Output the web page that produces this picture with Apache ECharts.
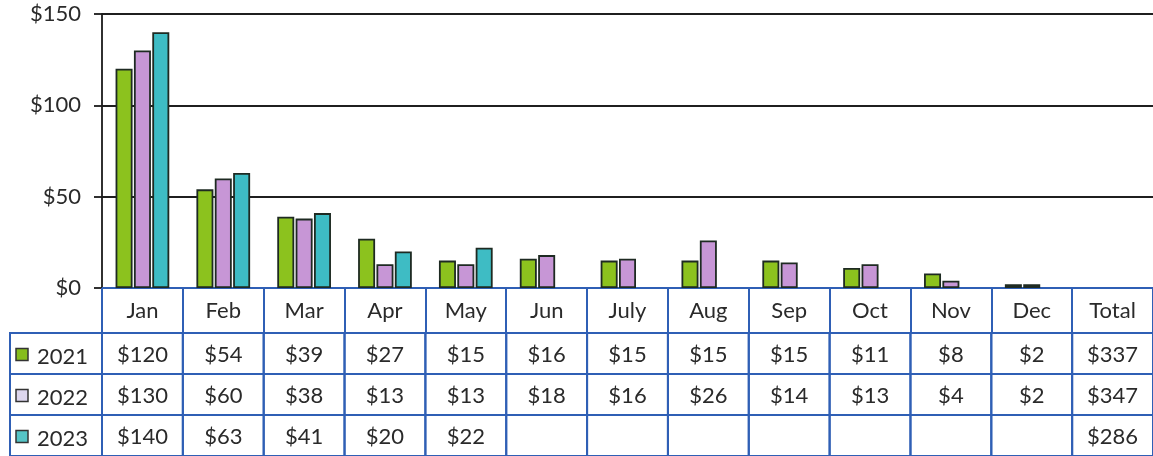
<!DOCTYPE html>
<html>
<head>
<meta charset="utf-8">
<script src="https://cdn.jsdelivr.net/npm/echarts@6/dist/echarts.min.js"></script>
<style>
html,body{margin:0;padding:0;background:#fff;}
#c{width:1153px;height:456px;}
</style>
</head>
<body>
<div id="c"></div>
<script>
// ---- data ----
const categories = ['Jan','Feb','Mar','Apr','May','Jun','July','Aug','Sep','Oct','Nov','Dec','Total'];
const seriesNames = ['2021','2022','2023'];
const v2021 = [120,54,39,27,15,16,15,15,15,11,8,2];
const v2022 = [130,60,38,13,13,18,16,26,14,13,4,2];
const v2023 = [140,63,41,20,22,null,null,null,null,null,null,null];
const totals = [337,347,286];
const yTicks = [0,50,100,150];

// ---- styles ----
const FONT = 'Lato';
const FS = 22;
const TXT = '#2a2a2a';
const BLUE = '#2f5fb5';
const fills = ['#8cc21e','#c796d6','#3ebcc4'];
const markerFills = ['#86bd1c','#ddd6ee','#55c4c6'];
const edge = '#1e2a22';

const rows = [v2021, v2022, v2023];
const tableData = [];
rows.forEach((vals, r) => {
  categories.forEach((c, ci) => {
    let t = '';
    if (ci < 12) { t = vals[ci] == null ? '' : '$' + vals[ci]; }
    else { t = '$' + totals[r]; }
    tableData.push([ci, r, t]);
  });
});
const labelData = seriesNames.map((n, r) => [0, r, n]);

const chart = echarts.init(document.getElementById('c'), null, {renderer:'canvas'});
const barSeries = rows.map((vals, i) => ({
  name: seriesNames[i],
  type: 'bar',
  xAxisIndex: 0, yAxisIndex: 0,
  data: vals.concat([null]),
  barWidth: 17,
  barGap: '8%',
  itemStyle: {color: fills[i], borderColor: edge, borderWidth: 1.8},
  emphasis: {disabled: true},
  animation: false
}));

chart.setOption({
  animation: false,
  textStyle: {fontFamily: FONT},
  grid: [
    {left: 102, right: -7, top: 14, bottom: 168, containLabel: false},
    {left: 102, right: -7, top: 333, height: 126, containLabel: false}
  ],
  xAxis: [
    {
      type: 'category', gridIndex: 0, data: categories, boundaryGap: true,
      axisLine: {show: true, lineStyle: {color: BLUE, width: 2}},
      axisTick: {show: true, interval: 0, length: 45, lineStyle: {color: BLUE, width: 2}},
      axisLabel: {interval: 0, margin: 12, fontSize: FS, color: TXT, fontFamily: FONT},
      splitLine: {show: false}
    },
    {
      type: 'category', gridIndex: 1, data: categories, boundaryGap: true, show: false
    }
  ],
  yAxis: [
    {
      type: 'value', gridIndex: 0, min: 0, max: 150, interval: 50,
      axisLine: {show: true, lineStyle: {color: '#1a1a1a', width: 1.8}},
      axisTick: {show: true, length: 8, lineStyle: {color: '#1a1a1a', width: 1.8}},
      axisLabel: {margin: 21, fontSize: FS, color: TXT, fontFamily: FONT,
        padding: [8,0,0,0],
        formatter: v => yTicks.includes(v) ? '$' + v : ''},
      splitLine: {show: true, lineStyle: {color: '#1f1f1f', width: 1.8}}
    },
    {
      type: 'category', gridIndex: 1, data: seriesNames, inverse: true, show: false
    }
  ],
  series: barSeries.concat([
    {
      type: 'custom', xAxisIndex: 1, yAxisIndex: 1, data: tableData, clip: false,
      silent: true,
      renderItem: function (params, api) {
        const p = api.coord([api.value(0), api.value(1)]);
        const s = api.size([1, 1]);
        const text = tableData[params.dataIndex][2];
        return {
          type: 'group',
          children: [
            {type: 'rect', shape: {x: p[0] - s[0]/2, y: p[1] - s[1]/2, width: s[0], height: s[1]},
             style: {fill: 'rgba(0,0,0,0)', stroke: BLUE, lineWidth: 2}},
            {type: 'text', x: p[0], y: p[1] + 1,
             style: {text: text, fill: TXT, font: FS + 'px ' + FONT, textAlign: 'center', textVerticalAlign: 'middle'}}
          ]
        };
      }
    },
    {
      type: 'custom', xAxisIndex: 1, yAxisIndex: 1, data: labelData, clip: false,
      silent: true,
      renderItem: function (params, api) {
        const p = api.coord([0, api.value(1)]);
        const s = api.size([1, 1]);
        const right = p[0] - s[0]/2;
        const left = 10;
        const top = p[1] - s[1]/2;
        const i = params.dataIndex;
        return {
          type: 'group',
          children: [
            {type: 'rect', shape: {x: left, y: top, width: right - left, height: s[1]},
             style: {fill: 'rgba(0,0,0,0)', stroke: BLUE, lineWidth: 2}},
            {type: 'rect', shape: {x: left + 6, y: p[1] - 5, width: 12, height: 12},
             style: {fill: markerFills[i], stroke: '#333', lineWidth: 1.5}},
            {type: 'text', x: left + 27, y: p[1] + 3,
             style: {text: seriesNames[i], fill: TXT, font: FS + 'px ' + FONT, textAlign: 'left', textVerticalAlign: 'middle'}}
          ]
        };
      }
    }
  ])
});
</script>
</body>
</html>
